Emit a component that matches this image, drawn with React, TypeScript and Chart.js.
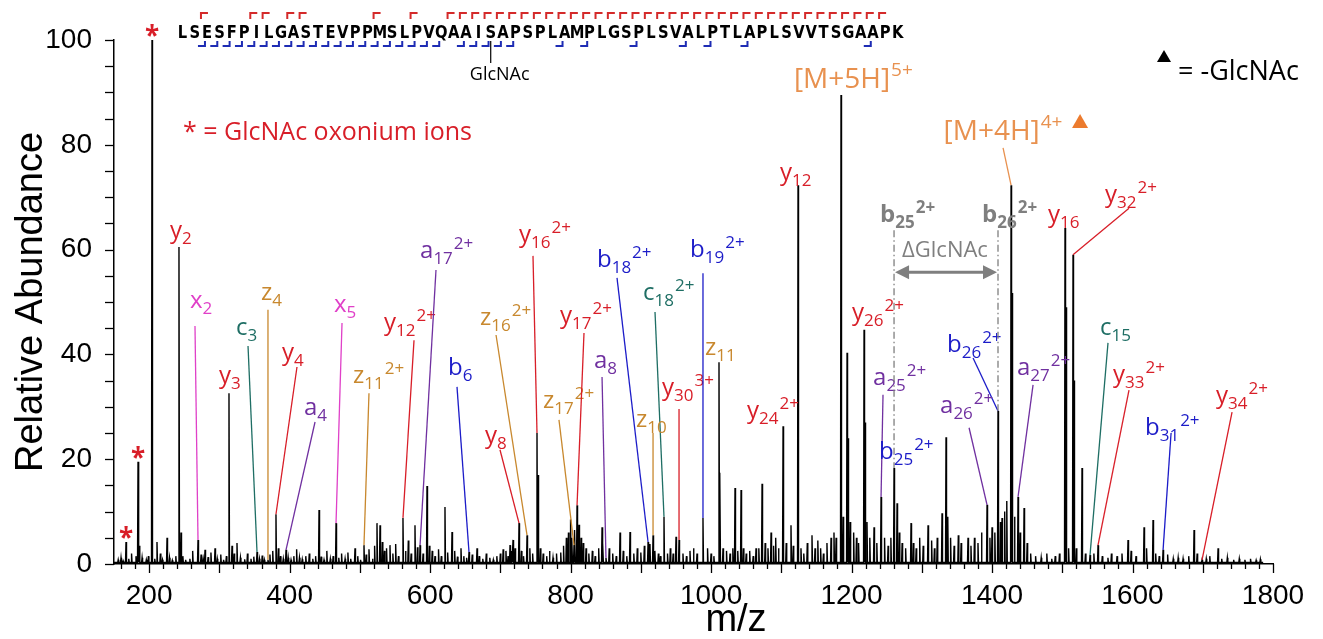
import { useEffect, useRef } from "react";
import { Chart, registerables } from "chart.js";

Chart.register(...registerables);

// Assigned / prominent peaks: m/z and relative abundance (%)
const PEAK_MZ = [
  167.1, 181.3, 184.2, 204.1, 211.2, 225.5, 242.5, 245.4, 269.6, 279.6, 293.8, 313.7, 325.1, 353.6, 369.2, 380.6,
  394.9, 441.9, 466.1, 493.1, 505.9, 524.4, 528.7, 542.9, 561.4, 578.5, 585.7, 595.6, 621.2, 631.2, 655.4, 666.8,
  713.8, 718.1, 726.6, 738.0, 752.2, 753.7, 804.9, 809.2, 844.8, 850.4, 870.4, 884.6, 910.3, 917.4, 933.0, 950.1,
  954.4, 988.5, 1011.3, 1012.7, 1034.1, 1042.7, 1064.0, 1072.6, 1085.4, 1102.5, 1113.8, 1123.8, 1143.7, 1170.8,
  1185.0, 1193.6, 1195.0, 1217.8, 1219.2, 1242.0, 1260.5, 1264.8, 1284.7, 1308.9, 1328.8, 1334.5, 1365.8, 1392.9,
  1408.5, 1414.2, 1427.1, 1428.5, 1437.0, 1445.6, 1503.9, 1505.4, 1515.3, 1516.7, 1528.1, 1539.5, 1550.9, 1593.6,
  1616.4, 1629.2, 1643.5, 1687.6, 1699.0, 1721.8,
];
const PEAK_INT = [
  4.2, 1.5, 19.5, 100, 4.2, 5.0, 60.5, 6.0, 4.6, 2.7, 3.0, 32.6, 4.0, 2.3, 0.8, 9.5,
  2.7, 10.3, 7.8, 3.0, 3.6, 7.8, 7.4, 3.6, 8.8, 7.4, 3.6, 14.9, 10.9, 6.1, 2.3, 3.0,
  3.6, 4.6, 7.8, 5.5, 25.0, 17.0, 3.6, 11.2, 7.0, 1.2, 6.0, 6.1, 4.2, 5.5, 9.0, 5.2,
  4.6, 8.8, 38.5, 17.4, 14.5, 14.1, 3.0, 15.3, 6.0, 26.3, 7.4, 72.3, 5.5, 5.0,
  89.5, 40.3, 24.0, 44.7, 27.0, 12.8, 18.3, 11.6, 7.8, 7.4, 9.7, 24.2, 5.0, 11.3,
  29.2, 8.8, 72.3, 51.7, 12.8, 10.7, 64.1, 49.0, 59.0, 35.0, 18.3, 1.7, 3.6, 4.6,
  7.0, 8.4, 2.7, 6.5, 0.8, 3.0,
];

// Unassigned background peaks
const NOISE_MZ = [
  156, 160, 163, 171, 175, 186, 190, 196, 199, 208, 216, 219, 229, 233, 238, 248, 252, 258, 262, 274, 277, 284, 288, 297,
  302, 306, 310, 318, 321, 330, 336, 340, 345, 349, 357, 361, 364, 372, 376, 384, 387, 391, 398, 402, 406, 410, 414, 418, 423, 428, 433, 437, 445, 449, 453, 458, 462, 470, 474, 479, 483, 487, 497,
  501, 509, 513, 518, 521, 532, 535, 538, 547, 551, 555, 565, 569, 573, 582, 590, 599, 603, 607, 612, 616, 625, 635, 639, 644, 648, 652, 660, 670, 675, 680, 685, 690, 695, 700,
  704, 708, 711, 716, 721, 730, 733, 742, 746, 757, 761, 766, 770, 775, 780, 786, 790, 794, 797, 800, 802, 806, 812, 815, 818, 822, 826, 831, 835, 840, 846, 855, 860, 865, 875, 880, 890, 895,
  900, 905, 913, 920, 925, 928, 938, 942, 946, 960, 965, 970, 975, 980, 995, 1000, 1004, 1017, 1022, 1027, 1031, 1038, 1046, 1050, 1055, 1060, 1068, 1077, 1081, 1089, 1092, 1096,
  1107, 1117, 1128, 1132, 1137, 1148, 1152, 1156, 1160, 1165, 1175, 1178, 1188, 1198, 1203, 1207, 1210, 1222, 1226, 1232, 1236, 1247, 1252, 1256, 1268, 1272, 1277, 1288, 1292, 1297,
  1302, 1314, 1318, 1322, 1337, 1341, 1346, 1352, 1356, 1370, 1375, 1380, 1385, 1397, 1400, 1404, 1412, 1418, 1421, 1432, 1440, 1450, 1455, 1462, 1470, 1478, 1485, 1490, 1496,
  1509, 1520, 1533, 1545, 1557, 1565, 1570, 1578, 1585, 1598, 1605, 1620, 1633, 1638, 1650, 1658, 1665, 1672, 1680, 1692, 1705, 1710, 1727, 1735, 1744, 1752, 1760, 1768, 1776, 1782,
];
const NOISE_INT = [
  0.8, 1.2, 0.6, 1.0, 2.0, 3.5, 1.2, 0.8, 1.5, 1.0, 2.0, 0.8, 1.2, 0.7, 1.5, 1.5, 0.8, 1.0, 2.5, 1.8, 1.0, 1.3, 2.2, 1.0,
  1.8, 0.8, 1.5, 3.5, 2.0, 1.2, 0.9, 2.0, 1.0, 1.4, 1.0, 1.6, 0.8, 1.8, 2.5, 3.0, 1.5, 1.0, 1.2, 0.8, 1.5, 2.8, 1.2, 0.9, 1.5, 2.0, 1.0, 1.5, 1.4, 0.8, 2.5, 1.0, 1.5, 1.2, 2.0, 1.0, 2.2, 1.0, 1.5,
  0.8, 1.8, 2.8, 1.0, 3.5, 4.2, 2.5, 3.0, 2.0, 3.8, 1.5, 2.5, 4.5, 2.0, 3.2, 2.0, 3.5, 2.5, 1.5, 2.8, 1.5, 2.2, 2.5, 1.4, 3.0, 1.5, 1.2, 1.8, 1.5, 1.0, 2.0, 1.2, 0.8, 1.5, 2.0,
  2.8, 2.5, 1.5, 2.5, 3.0, 2.5, 1.5, 3.0, 2.0, 3.0, 2.0, 1.5, 2.5, 1.2, 2.0, 2.2, 3.5, 5.0, 6.0, 8.5, 5.0, 6.5, 7.5, 5.0, 4.0, 3.0, 2.0, 2.5, 1.5, 3.0, 4.0, 3.0, 2.0, 1.5, 2.5, 1.5, 2.0, 3.0,
  2.2, 3.5, 3.8, 2.5, 2.0, 1.5, 2.0, 3.0, 2.0, 2.0, 1.5, 2.5, 3.0, 2.0, 3.0, 2.0, 1.5, 3.0, 2.5, 2.0, 3.0, 2.5, 3.0, 2.0, 2.5, 1.5, 3.0, 4.0, 3.0, 3.5, 5.0, 3.0,
  4.0, 3.5, 3.0, 2.0, 4.0, 3.0, 4.5, 3.0, 2.0, 4.0, 6.0, 5.0, 9.0, 8.0, 6.0, 5.0, 4.0, 8.0, 5.0, 7.0, 4.0, 5.0, 3.5, 5.0, 6.0, 4.0, 3.0, 4.0, 3.0, 5.0,
  3.5, 4.5, 3.0, 5.0, 9.0, 5.0, 3.5, 5.5, 4.0, 3.5, 5.0, 4.0, 6.0, 5.0, 7.0, 6.0, 8.0, 10.0, 12.0, 9.0, 6.0, 4.0, 2.0, 1.5, 1.2, 2.0, 1.0, 1.5, 2.0,
  3.0, 3.0, 2.0, 2.0, 1.5, 1.2, 2.0, 1.5, 2.0, 2.5, 1.5, 3.0, 2.0, 1.5, 1.8, 1.0, 1.2, 1.0, 1.5, 2.0, 1.0, 1.5, 1.0, 1.2, 0.8, 1.0, 0.8, 1.0, 0.7, 0.9,
];

const BASELINE = 0.3;
const SPECTRUM_END = 1786;

const X_TICKS = [200, 400, 600, 800, 1000, 1200, 1400, 1600, 1800];
const Y_TICKS = [0, 20, 40, 60, 80, 100];

// GlcNAc oxonium ions marked with an asterisk
const OXONIUM_MZ = [167.1, 184.2, 204.1];

// Peptide sequence and observed cleavage sites (after residue k)
const SEQUENCE = "LSESFPILGASTEVPPMSLPVQAAISAPSPLAMPLGSPLSVALPTLAPLSVVTSGAAPK";
const N_TERM_SITES = [2, 3, 4, 5, 6, 7, 8, 9, 10, 11, 12, 13, 14, 15, 16, 17, 18, 19, 20, 21, 23, 24, 25, 26, 27, 31, 33, 37, 41, 43, 46, 56];
const C_TERM_SITES = [2, 6, 7, 9, 10, 16, 19, 22, 23, 24, 25, 26, 27, 28, 29, 30, 31, 32, 33, 34, 35, 36, 37, 38, 39, 40, 41, 42, 43, 44, 45, 46, 47, 48, 49, 50, 51, 52, 53, 54, 55, 56, 57];
const GLYCO_SITE = 26;

type Ion = {
  ion: string;
  sub: string;
  sup?: string;
  at: [number, number];
  from?: [number, number];
  peak?: number;
};

// Fragment ion labels: label anchor (m/z, %), optional leader start and the peak it points to
const IONS: Ion[] = [
  { ion: "y", sub: "2", at: [229.7, 62.2] },
  { ion: "x", sub: "2", at: [258.2, 48.9], from: [265.3, 45.4], peak: 269.6 },
  { ion: "c", sub: "3", at: [323.7, 43.7], from: [340.8, 41.6], peak: 353.6 },
  { ion: "y", sub: "3", at: [299.5, 34.5] },
  { ion: "z", sub: "4", at: [359.3, 50.4], from: [369.2, 48.5], peak: 369.2 },
  { ion: "y", sub: "4", at: [389.2, 38.9], from: [410.5, 37.6], peak: 380.6 },
  { ion: "a", sub: "4", at: [420.5, 28.4], from: [436.2, 27.1], peak: 394.9 },
  { ion: "x", sub: "5", at: [463.2, 48.1], from: [474.6, 46.0], peak: 466.1 },
  { ion: "z", sub: "11", sup: "2+", at: [490.3, 34.5], from: [513.0, 32.6], peak: 505.9 },
  { ion: "y", sub: "12", sup: "2+", at: [534.4, 44.7], from: [577.1, 42.7], peak: 561.4 },
  { ion: "a", sub: "17", sup: "2+", at: [585.7, 58.4], from: [608.4, 56.1], peak: 585.7 },
  { ion: "b", sub: "6", at: [625.5, 36.1], from: [638.3, 33.8], peak: 655.4 },
  { ion: "y", sub: "16", sup: "2+", at: [726.6, 61.5], from: [746.5, 58.8], peak: 752.2 },
  { ion: "y", sub: "8", at: [678.2, 23.1], from: [699.5, 21.8], peak: 726.6 },
  { ion: "z", sub: "16", sup: "2+", at: [671.1, 45.6], from: [693.9, 43.7], peak: 738.0 },
  { ion: "z", sub: "17", sup: "2+", at: [760.8, 29.8], from: [783.5, 27.5], peak: 804.9 },
  { ion: "y", sub: "17", sup: "2+", at: [785.0, 46.0], from: [819.1, 44.1], peak: 809.2 },
  { ion: "a", sub: "8", at: [833.4, 37.4], from: [844.8, 35.7], peak: 850.4 },
  { ion: "b", sub: "18", sup: "2+", at: [837.6, 56.7], from: [866.1, 54.6], peak: 910.3 },
  { ion: "c", sub: "18", sup: "2+", at: [903.1, 50.4], from: [920.2, 48.1], peak: 933.0 },
  { ion: "z", sub: "10", at: [893.2, 26.1], from: [917.4, 25.0], peak: 917.4 },
  { ion: "y", sub: "30", sup: "3+", at: [930.2, 32.3], from: [954.4, 29.6], peak: 954.4 },
  { ion: "b", sub: "19", sup: "2+", at: [970.1, 58.6], from: [988.5, 55.5], peak: 988.5 },
  { ion: "z", sub: "11", at: [991.4, 39.9] },
  { ion: "y", sub: "24", sup: "2+", at: [1051.2, 27.9] },
  { ion: "y", sub: "12", at: [1098.2, 73.3] },
  { ion: "y", sub: "26", sup: "2+", at: [1200.7, 46.6] },
  { ion: "a", sub: "25", sup: "2+", at: [1230.6, 34.2], from: [1244.8, 32.3], peak: 1242.0 },
  { ion: "b", sub: "25", sup: "2+", at: [1239.1, 20.0] },
  { ion: "b", sub: "26", sup: "2+", at: [1335.9, 40.5], from: [1373.0, 39.3], peak: 1408.5 },
  { ion: "a", sub: "26", sup: "2+", at: [1326.0, 28.8], from: [1367.3, 26.0], peak: 1392.9 },
  { ion: "a", sub: "27", sup: "2+", at: [1435.6, 36.1], from: [1458.4, 34.2], peak: 1437.0 },
  { ion: "y", sub: "16", at: [1479.7, 65.3] },
  { ion: "y", sub: "32", sup: "2+", at: [1560.9, 69.1], from: [1595.0, 67.9], peak: 1515.3 },
  { ion: "c", sub: "15", at: [1553.8, 43.7], from: [1565.1, 42.2], peak: 1539.5 },
  { ion: "y", sub: "33", sup: "2+", at: [1572.3, 34.7], from: [1595.0, 33.2], peak: 1550.9 },
  { ion: "b", sub: "31", sup: "2+", at: [1617.8, 24.6], from: [1654.9, 25.0], peak: 1643.5 },
  { ion: "y", sub: "34", sup: "2+", at: [1718.9, 30.7], from: [1741.7, 29.0], peak: 1699.0 },
];

// Intact precursor charge states
const PRECURSORS = [
  { text: "[M+5H]", sup: "5+", at: [1118.0, 90.8] as [number, number] },
  { text: "[M+4H]", sup: "4+", at: [1331.0, 80.9] as [number, number], from: [1415.7, 79.4] as [number, number], peak: 1427.1, lossMark: [1525.3, 83.2] as [number, number] },
];

// Glycan-retaining pair b25/b26 (2+) separated by one GlcNAc
const GLYCO_PAIR = [
  { sub: "25", sup: "2+", at: [1240.6, 65.3] as [number, number], peak: 1260.5 },
  { sub: "26", sup: "2+", at: [1385.8, 65.3] as [number, number], peak: 1408.5 },
];
const PAIR_TOP = 63.7;
const PAIR_ARROW_Y = 55.7;
const PAIR_LABEL: [number, number] = [1271.9, 58.6];

const ION_COLOR: Record<string, string> = {
  a: "#7030a0",
  b: "#1c1cc8",
  c: "#1e6e64",
  x: "#e040c8",
  y: "#d81e28",
  z: "#c8882e",
};
const PRECURSOR_COLOR = "#e8914f";
const GRAY = "#7f7f7f";
const LABEL_FONT = '"Open Sans", "Noto Sans", sans-serif';
const AXIS_FONT = '"Liberation Sans", Arial, sans-serif';

function peakHeight(mz: number): number {
  let best = 0;
  for (let i = 1; i < PEAK_MZ.length; i++) {
    if (Math.abs(PEAK_MZ[i] - mz) < Math.abs(PEAK_MZ[best] - mz)) best = i;
  }
  return PEAK_INT[best];
}

function buildProfile() {
  const peaks: { m: number; h: number }[] = [];
  PEAK_MZ.forEach((m, i) => peaks.push({ m, h: PEAK_INT[i] }));
  NOISE_MZ.forEach((m, i) => {
    if (NOISE_INT[i] !== undefined) peaks.push({ m, h: NOISE_INT[i] });
  });
  peaks.sort((a, b) => a.m - b.m);
  const pts: { x: number; y: number }[] = [{ x: 150, y: BASELINE }];
  for (const p of peaks) {
    pts.push({ x: p.m - 0.7, y: BASELINE }, { x: p.m, y: p.h }, { x: p.m + 0.7, y: BASELINE });
  }
  pts.push({ x: SPECTRUM_END, y: BASELINE });
  return pts;
}

function drawIonText(
  ctx: CanvasRenderingContext2D,
  x: number,
  y: number,
  main: string,
  sub: string,
  sup: string,
  color: string,
  opts: { bold?: boolean; size?: number; small?: number; supRise?: number } = {}
) {
  const size = opts.size ?? 24;
  const small = opts.small ?? 17;
  const w = opts.bold ? "bold " : "";
  ctx.fillStyle = color;
  ctx.textAlign = "left";
  ctx.textBaseline = "alphabetic";
  ctx.font = `${w}${size}px ${LABEL_FONT}`;
  ctx.fillText(main, x, y);
  let cx = x + ctx.measureText(main).width;
  ctx.font = `${w}${small}px ${LABEL_FONT}`;
  if (sub) {
    ctx.fillText(sub, cx, y + 6);
    cx += ctx.measureText(sub).width;
  }
  if (sup) ctx.fillText(sup, cx + 1, y - (opts.supRise ?? 9));
}

const annotationPlugin = {
  id: "spectrumAnnotations",
  afterDraw(chart: Chart) {
    const { ctx, chartArea: area } = chart;
    const xs = chart.scales.x;
    const ys = chart.scales.y;
    const X = (v: number) => xs.getPixelForValue(v);
    const Y = (v: number) => ys.getPixelForValue(v);
    const seg = (x1: number, y1: number, x2: number, y2: number) => {
      ctx.beginPath();
      ctx.moveTo(x1, y1);
      ctx.lineTo(x2, y2);
      ctx.stroke();
    };

    ctx.save();

    // tick marks: x major every 100, minor every 20; y every 5
    ctx.strokeStyle = "#000";
    ctx.lineWidth = 1.3;
    for (let v = 160; v <= 1800; v += 20) {
      const px = Math.round(X(v)) + 0.5;
      seg(px, area.bottom, px, area.bottom + (v % 100 === 0 ? 9 : 5));
    }
    for (let v = 0; v <= 100; v += 5) {
      const py = Math.round(Y(v)) + 0.5;
      seg(area.left - 9, py, area.left, py);
    }

    // axis titles
    ctx.fillStyle = "#000";
    ctx.font = `38px ${AXIS_FONT}`;
    ctx.textAlign = "center";
    ctx.textBaseline = "alphabetic";
    ctx.fillText("m/z", 736, 631);
    ctx.save();
    ctx.translate(42, (area.top + area.bottom) / 2);
    ctx.rotate(-Math.PI / 2);
    ctx.fillText("Relative Abundance", 0, 0);
    ctx.restore();

    // oxonium asterisks
    ctx.fillStyle = ION_COLOR.y;
    ctx.font = `bold 26px ${LABEL_FONT}`;
    ctx.textAlign = "center";
    for (const mz of OXONIUM_MZ) {
      ctx.fillText("*", X(mz), Y(peakHeight(mz)) + 5);
    }

    // fragment ion labels and leaders
    for (const ion of IONS) {
      const color = ION_COLOR[ion.ion];
      if (ion.from && ion.peak !== undefined) {
        ctx.strokeStyle = color;
        ctx.lineWidth = 1.3;
        seg(X(ion.from[0]), Y(ion.from[1]), X(ion.peak), Y(peakHeight(ion.peak)));
      }
      drawIonText(ctx, X(ion.at[0]), Y(ion.at[1]), ion.ion, ion.sub, ion.sup ?? "", color);
    }

    // precursor labels
    for (const p of PRECURSORS) {
      if (p.from && p.peak !== undefined) {
        ctx.strokeStyle = PRECURSOR_COLOR;
        ctx.lineWidth = 1.3;
        seg(X(p.from[0]), Y(p.from[1]), X(p.peak), Y(peakHeight(p.peak)));
      }
      drawIonText(ctx, X(p.at[0]), Y(p.at[1]), p.text, "", p.sup, PRECURSOR_COLOR, { size: 28, small: 19, supRise: 12 });
      if (p.lossMark) {
        const tx = X(p.lossMark[0]);
        const ty = Y(p.lossMark[1]);
        ctx.fillStyle = "#ec7b2e";
        ctx.beginPath();
        ctx.moveTo(tx, ty - 14);
        ctx.lineTo(tx + 8, ty);
        ctx.lineTo(tx - 8, ty);
        ctx.closePath();
        ctx.fill();
      }
    }

    // b25 / b26 glycan-loss pair
    ctx.strokeStyle = GRAY;
    ctx.lineWidth = 1.3;
    ctx.setLineDash([7, 3, 1.5, 3]);
    for (const g of GLYCO_PAIR) {
      seg(X(g.peak), Y(PAIR_TOP), X(g.peak), Y(peakHeight(g.peak)));
    }
    ctx.setLineDash([]);
    for (const g of GLYCO_PAIR) {
      drawIonText(ctx, X(g.at[0]), Y(g.at[1]), "b", g.sub, g.sup, GRAY, { bold: true });
    }
    {
      const x1 = X(GLYCO_PAIR[0].peak) + 1;
      const x2 = X(GLYCO_PAIR[1].peak) - 1;
      const ay = Y(PAIR_ARROW_Y);
      ctx.strokeStyle = GRAY;
      ctx.fillStyle = GRAY;
      ctx.lineWidth = 3;
      seg(x1 + 10, ay, x2 - 10, ay);
      ctx.beginPath();
      ctx.moveTo(x1, ay);
      ctx.lineTo(x1 + 14, ay - 7);
      ctx.lineTo(x1 + 14, ay + 7);
      ctx.closePath();
      ctx.fill();
      ctx.beginPath();
      ctx.moveTo(x2, ay);
      ctx.lineTo(x2 - 14, ay - 7);
      ctx.lineTo(x2 - 14, ay + 7);
      ctx.closePath();
      ctx.fill();
      ctx.font = `22px ${LABEL_FONT}`;
      ctx.textAlign = "left";
      ctx.fillText("\u0394GlcNAc", X(PAIR_LABEL[0]), Y(PAIR_LABEL[1]));
    }

    // sequence map with cleavage brackets
    const seqLeft = area.left + 62.3;
    const cell = 12.33;
    const seqBase = 38;
    ctx.fillStyle = "#000";
    ctx.font = `bold 18px "DejaVu Sans", sans-serif`;
    ctx.textAlign = "center";
    for (let i = 0; i < SEQUENCE.length; i++) {
      ctx.save();
      ctx.translate(seqLeft + (i + 0.5) * cell, seqBase);
      ctx.scale(0.82, 1);
      ctx.fillText(SEQUENCE[i], 0, 0);
      ctx.restore();
    }
    ctx.lineWidth = 2;
    ctx.strokeStyle = "#d42a2a";
    for (const k of C_TERM_SITES) {
      const bx = seqLeft + k * cell;
      ctx.beginPath();
      ctx.moveTo(bx, 19);
      ctx.lineTo(bx, 13);
      ctx.lineTo(bx + 7, 13);
      ctx.stroke();
    }
    ctx.strokeStyle = "#1e2cb4";
    for (const k of N_TERM_SITES) {
      const bx = seqLeft + k * cell;
      ctx.beginPath();
      ctx.moveTo(bx - 3, 46);
      ctx.lineTo(bx + 4, 46);
      ctx.lineTo(bx + 4, 41);
      ctx.stroke();
    }
    const gx = seqLeft + (GLYCO_SITE - 0.5) * cell;
    ctx.strokeStyle = "#000";
    ctx.lineWidth = 1.2;
    seg(gx, 41, gx, 63);
    ctx.font = `18px ${LABEL_FONT}`;
    ctx.textAlign = "center";
    ctx.fillText("GlcNAc", gx + 9, 80);

    // legends
    ctx.fillStyle = ION_COLOR.y;
    ctx.font = `25px ${LABEL_FONT}`;
    ctx.textAlign = "left";
    ctx.fillText("* = GlcNAc oxonium ions", 183, 140);

    ctx.fillStyle = "#000";
    ctx.beginPath();
    ctx.moveTo(1164, 50);
    ctx.lineTo(1171, 62);
    ctx.lineTo(1157, 62);
    ctx.closePath();
    ctx.fill();
    ctx.font = `27px ${LABEL_FONT}`;
    ctx.fillText("= -GlcNAc", 1178, 80);

    ctx.restore();
  },
};

export default function App() {
  const canvasRef = useRef<HTMLCanvasElement>(null);

  useEffect(() => {
    const canvas = canvasRef.current;
    if (!canvas) return;
    const chart = new Chart(canvas, {
      type: "line",
      data: {
        datasets: [
          {
            data: buildProfile(),
            borderColor: "#000",
            borderWidth: 1.4,
            pointRadius: 0,
            tension: 0,
            fill: false,
          },
        ],
      },
      options: {
        responsive: false,
        animation: false,
        devicePixelRatio: 1,
        layout: { padding: { left: 0, right: 50, top: 40, bottom: 0 } },
        plugins: { legend: { display: false }, tooltip: { enabled: false } },
        scales: {
          x: {
            type: "linear",
            min: 150,
            max: 1800,
            grid: { display: false },
            border: { display: true, color: "#000", width: 1.5 },
            afterBuildTicks: (s: any) => {
              s.ticks = X_TICKS.map((v) => ({ value: v }));
            },
            afterFit: (s: any) => {
              s.height = 75;
            },
            ticks: {
              color: "#000",
              font: { family: AXIS_FONT, size: 28 },
              padding: 7,
              maxRotation: 0,
              autoSkip: false,
              callback: (v: any) => String(v),
            },
          },
          y: {
            type: "linear",
            min: 0,
            max: 100,
            grid: { display: false },
            border: { display: true, color: "#000", width: 1.5 },
            afterBuildTicks: (s: any) => {
              s.ticks = Y_TICKS.map((v) => ({ value: v }));
            },
            afterFit: (s: any) => {
              s.width = 114;
            },
            ticks: {
              color: "#000",
              font: { family: AXIS_FONT, size: 28 },
              padding: 14,
              callback: (v: any) => String(v),
            },
          },
        },
      },
      plugins: [annotationPlugin],
    });
    return () => chart.destroy();
  }, []);

  return (
    <div style={{ position: "fixed", left: 0, top: 0, width: 1323, height: 639, background: "#fff" }}>
      <canvas ref={canvasRef} width={1323} height={639} style={{ display: "block" }} />
    </div>
  );
}
